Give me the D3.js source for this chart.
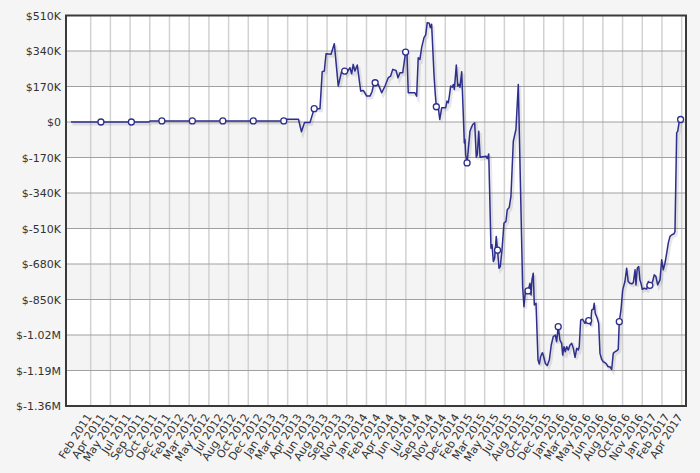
<!DOCTYPE html>
<html>
<head>
<meta charset="utf-8">
<script src="https://cdn.jsdelivr.net/npm/d3@7"></script>
<style>
  html, body { margin: 0; padding: 0; background: #f5f5f5; }
  #chart { width: 700px; height: 473px; }
  text { font-family: "DejaVu Sans", Verdana, sans-serif; fill: #333; }
</style>
</head>
<body>
<div id="chart"></div>
<script>
// x labels (category axis, evenly spaced)
const xLabels = [
  'Feb 2011','Apr 2011','May 2011','Jul 2011','Sep 2011','Oct 2011','Dec 2011',
  'Feb 2012','Mar 2012','May 2012','Jul 2012','Aug 2012','Oct 2012','Dec 2012',
  'Jan 2013','Mar 2013','Apr 2013','Jun 2013','Aug 2013','Sep 2013','Nov 2013',
  'Jan 2014','Feb 2014','Apr 2014','Jun 2014','Jul 2014','Sep 2014','Nov 2014',
  'Dec 2014','Feb 2015','Mar 2015','May 2015','Jul 2015','Aug 2015','Oct 2015',
  'Dec 2015','Jan 2016','Mar 2016','May 2016','Jun 2016','Aug 2016','Oct 2016',
  'Nov 2016','Jan 2017','Feb 2017','Apr 2017'
];

// y ticks, in thousands of $
const yTicks = [510, 340, 170, 0, -170, -340, -510, -680, -850, -1020, -1190, -1360];

// series position along the label axis (label index units)
const pos = [
  -1.50, 0.78, 3.10, 4.44, 4.52, 5.42, 7.74, 10.06, 12.38, 14.70, 14.95, 15.82,
  16.05, 16.28, 16.70, 17.02, 17.46, 17.63, 17.79, 17.92, 18.30, 18.55, 18.85,
  19.11, 19.34, 19.44, 19.74, 19.87, 19.99, 20.12, 20.30, 20.56, 20.76, 21.02,
  21.27, 21.42, 21.52, 21.66, 21.90, 22.16, 22.41, 22.66, 22.84, 23.00, 23.25,
  23.40, 23.55, 23.76, 23.98, 24.08, 24.18, 24.69, 24.82, 24.94, 25.07, 25.20,
  25.38, 25.51, 25.63, 25.78, 25.86, 25.96, 26.14, 26.24, 26.32, 26.47, 26.58,
  26.73, 27.03, 27.13, 27.23, 27.31, 27.41, 27.54, 27.61, 27.69, 27.84, 27.95,
  28.04, 28.12, 28.25, 28.45, 28.50, 28.55, 28.66, 28.88, 28.98, 29.09, 29.24,
  29.36, 29.44, 29.55, 29.65, 30.10, 30.20, 30.31, 30.48, 30.56, 30.66, 30.76,
  30.88, 30.98, 31.09, 31.19, 31.32, 31.47, 31.62, 31.72, 31.87, 32.00, 32.18,
  32.38, 32.56, 32.89, 32.99, 33.12, 33.30, 33.45, 33.53, 33.60, 33.70, 33.78,
  33.91, 34.06, 34.16, 34.26, 34.39, 34.46, 34.62, 34.77, 34.92, 35.07, 35.22,
  35.38, 35.48, 35.60, 35.73, 35.86, 35.94, 36.04, 36.14, 36.24, 36.37, 36.50,
  36.63, 36.75, 36.88, 37.01, 37.13, 37.20, 37.31, 37.46, 37.64, 37.77, 37.92,
  38.07, 38.15, 38.27, 38.34, 38.42, 38.57, 38.68, 38.78, 38.91, 39.03, 39.24,
  39.39, 39.54, 39.67, 39.79, 39.92, 40.05, 40.17, 40.25, 40.38, 40.51, 40.68,
  40.81, 40.93, 41.06, 41.21, 41.32, 41.45, 41.52, 41.62, 41.73, 41.82, 41.90,
  42.00, 42.15, 42.34, 42.46, 42.58, 42.79, 42.91, 43.04, 43.17, 43.35, 43.48,
  43.60, 43.73, 43.86, 43.98, 44.11, 44.26, 44.42, 44.49, 44.62, 44.70, 44.80,
  44.92
];

// series values, thousands of $
const val = [
  0, 0, 0, 0, 5, 5, 5, 5, 5, 5, 13, 13,
  -47, -2, -2, 64, 64, 241, 244, 327, 324, 375, 172,
  244, 244, 231, 260, 231, 276, 244, 273, 148, 151, 124,
  124, 145, 172, 188, 180, 140, 172, 212, 220, 252, 247,
  212, 236, 236, 335, 335, 140, 140, 124, 308, 300, 356,
  404, 417, 476, 473, 452, 468, 228, 132, 73, 68, 12,
  68, 68, 100, 92, 124, 172, 167, 180, 156, 273, 172,
  180, 167, 241, -100, -84, -156, -196, -44, -28, -12, -4,
  -169, -156, -44, -169, -164, -175, -153, -604, -588, -668, -652,
  -548, -614, -700, -692, -612, -484, -476, -420, -409, -356, -92,
  -36, 180, -788, -884, -800, -809, -772, -828, -756, -724, -876,
  -868, -1140, -1159, -1124, -1105, -1116, -1156, -1166, -1140, -1068, -1028,
  -1020, -1052, -980, -1044, -1060, -1116, -1076, -1100, -1076, -1092, -1068,
  -1060, -1084, -1127, -1084, -1092, -1076, -948, -945, -964, -956, -951,
  -972, -900, -897, -868, -916, -940, -964, -1108, -1137, -1148, -1156,
  -1172, -1172, -1185, -1108, -1100, -1096, -1089, -956, -900, -804, -764,
  -700, -764, -772, -775, -769, -708, -780, -700, -692, -756, -772,
  -801, -796, -800, -764, -782, -764, -732, -740, -780, -756, -660,
  -708, -676, -628, -580, -548, -540, -535, -524, -52, -44, -4,
  12
];

// points carrying a round marker (positions on the same axis)
const markerPos = [0.78, 3.10, 5.42, 7.74, 10.06, 12.38, 14.70, 17.02, 19.34, 21.66,
  23.98, 26.32, 28.66, 30.98, 33.30, 35.60, 37.92, 40.25, 42.58, 44.92];

const W = 700, H = 473;
const m = { top: 15.5, right: 14, bottom: 67, left: 66 };
const w = W - m.left - m.right;
const h = H - m.top - m.bottom;

const svg = d3.select('#chart').append('svg')
  .attr('width', W).attr('height', H);
const g = svg.append('g').attr('transform', `translate(${m.left},${m.top})`);

const x = d3.scaleLinear().domain([-1.88, 45.33]).range([0, w]);
const y = d3.scaleLinear().domain([-1360, 510]).range([h, 0]);

// alternating bands
for (let i = 0; i < yTicks.length - 1; i++) {
  g.append('rect')
    .attr('x', 0).attr('width', w)
    .attr('y', y(yTicks[i])).attr('height', y(yTicks[i + 1]) - y(yTicks[i]))
    .attr('fill', i % 2 ? '#f4f4f4' : '#ffffff');
}

// vertical grid every 1.5 labels
const vGrid = d3.range(0, 45.01, 1.5);
g.selectAll('.vg').data(vGrid).join('line')
  .attr('x1', d => x(d)).attr('x2', d => x(d))
  .attr('y1', 0).attr('y2', h)
  .attr('stroke', '#d2d2d2').attr('stroke-width', 1.5);

// horizontal grid
g.selectAll('.hg').data(yTicks.slice(1, -1)).join('line')
  .attr('x1', 0).attr('x2', w)
  .attr('y1', d => y(d)).attr('y2', d => y(d))
  .attr('stroke', '#a0a0a0').attr('stroke-width', 1);

// y axis labels
const fmt = v => {
  if (v === 0) return '$0';
  if (Math.abs(v) >= 1000) return '$' + (v < 0 ? '-' : '') + (Math.abs(v) / 1000).toFixed(2) + 'M';
  return '$' + v + 'K';
};
const yAxis = g.append('g')
  .call(d3.axisLeft(y).tickValues(yTicks).tickSize(0).tickPadding(5).tickFormat(fmt));
yAxis.select('.domain').remove();
yAxis.selectAll('text')
  .style('font-family', '"DejaVu Sans", Verdana, sans-serif')
  .style('font-size', '11px').attr('fill', '#333');

// x axis labels
const xAxis = g.append('g').attr('transform', `translate(0,${h})`)
  .call(d3.axisBottom(x).tickValues(d3.range(xLabels.length)).tickSize(0)
    .tickFormat(i => xLabels[i]));
xAxis.select('.domain').remove();
xAxis.selectAll('text')
  .style('font-family', '"DejaVu Sans", Verdana, sans-serif')
  .style('font-size', '11px').attr('fill', '#333')
  .attr('text-anchor', 'end')
  .attr('dy', null).attr('y', 0)
  .attr('transform', 'translate(1,11) rotate(-57)');

// series
const pts = pos.map((p, i) => ({ p, v: val[i] }));
const line = d3.line().x(d => x(d.p)).y(d => y(d.v));

g.append('path').datum(pts)
  .attr('d', line)
  .attr('fill', 'none')
  .attr('stroke', 'rgba(60,60,80,0.12)')
  .attr('stroke-width', 3)
  .attr('transform', 'translate(1.5,2)');

g.append('path').datum(pts)
  .attr('d', line)
  .attr('fill', 'none')
  .attr('stroke', '#2e2e8c')
  .attr('stroke-width', 1.5)
  .attr('stroke-linejoin', 'round');

const marks = markerPos.map(mp => pts.find(d => Math.abs(d.p - mp) < 1e-6)).filter(Boolean);
g.selectAll('.mk').data(marks).join('circle')
  .attr('cx', d => x(d.p)).attr('cy', d => y(d.v))
  .attr('r', 3)
  .attr('fill', '#fff')
  .attr('stroke', '#2e2e8c')
  .attr('stroke-width', 1.3);

// frame
g.append('rect')
  .attr('x', 0).attr('y', 0).attr('width', w).attr('height', h)
  .attr('fill', 'none').attr('stroke', '#3a3a3a').attr('stroke-width', 2);
</script>
</body>
</html>
